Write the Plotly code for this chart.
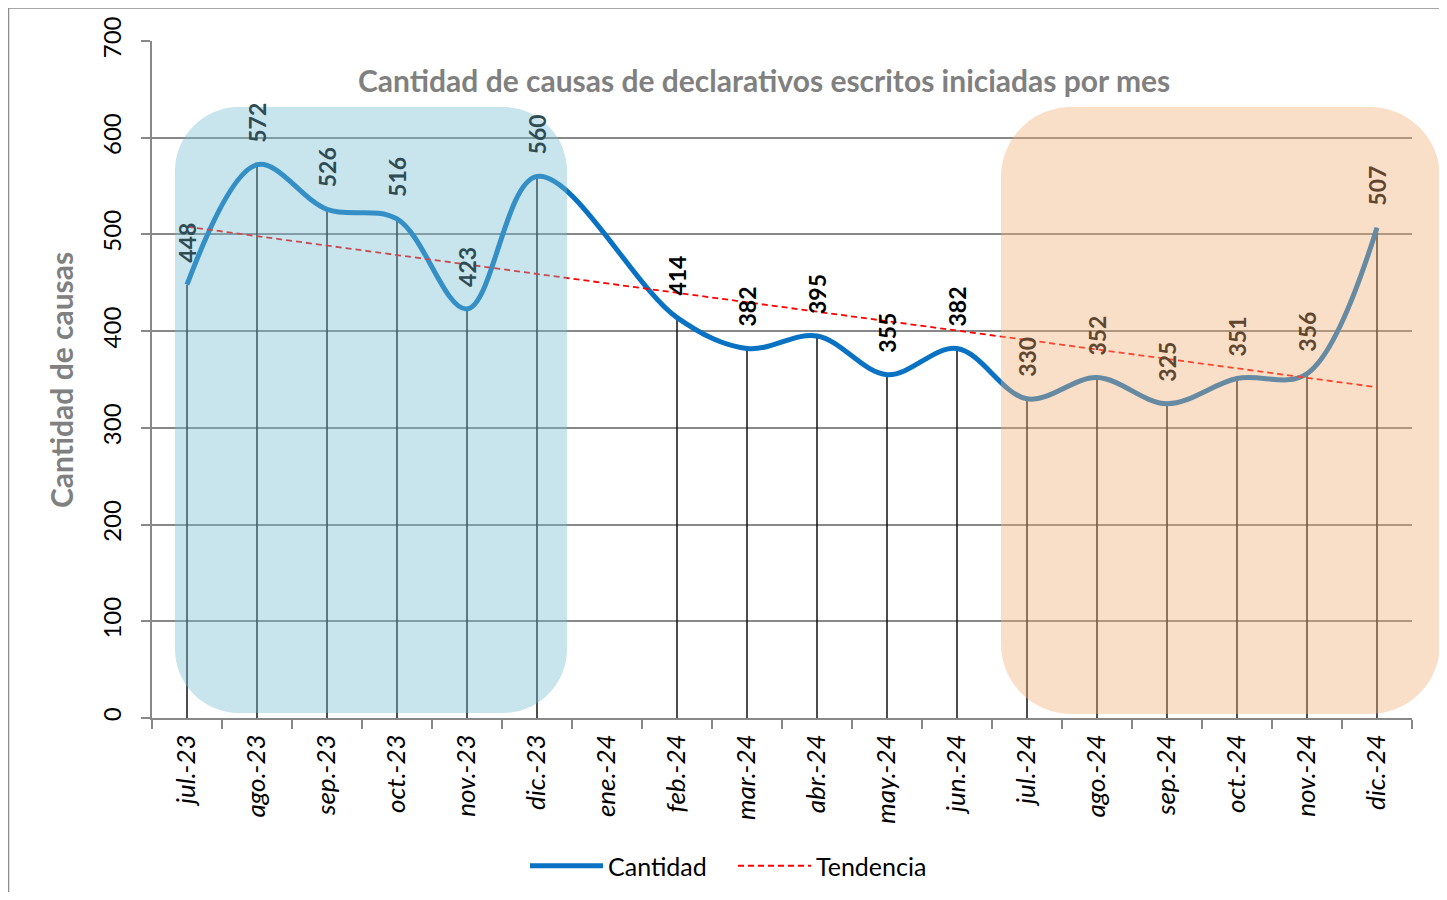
import plotly.graph_objects as go

# ---------------- data ----------------
months = ["jul.-23", "ago.-23", "sep.-23", "oct.-23", "nov.-23", "dic.-23",
          "ene.-24", "feb.-24", "mar.-24", "abr.-24", "may.-24", "jun.-24",
          "jul.-24", "ago.-24", "sep.-24", "oct.-24", "nov.-24", "dic.-24"]
cantidad = [448, 572, 526, 516, 423, 560,
            None, 414, 382, 395, 355, 382,
            330, 352, 325, 351, 356, 507]
trend_months = ["jul.-23", "dic.-24"]
tendencia = [508, 342]

title_text = "Cantidad de causas de declarativos escritos iniciadas por mes"
y_title = "Cantidad de causas"

# ---------------- layout geometry (page pixels) ----------------
OFF = 8                      # default body margin of the html page
PAGE_W, PAGE_H = 1447, 900
W, H = PAGE_W - 2 * OFF, PAGE_H - 2 * OFF
PLOT_X0, PLOT_X1, PLOT_Y0, PLOT_Y1 = 152, 1412, 41, 718
L, T = PLOT_X0 - OFF, PLOT_Y0 - OFF
R, B = PAGE_W - OFF - PLOT_X1, PAGE_H - OFF - PLOT_Y1
PW, PH = PLOT_X1 - PLOT_X0, PLOT_Y1 - PLOT_Y0
FONT = "Lato"


def px(x):
    return (x - PLOT_X0) / PW


def py(y):
    return (PLOT_Y1 - y) / PH


def rrect(x0, y0, x1, y1, r):
    k = 0.5523 * r

    def P(x, y):
        return f"{px(x):.5f},{py(y):.5f}"
    s = f"M{P(x0 + r, y0)} L{P(x1 - r, y0)} "
    s += f"C{P(x1 - r + k, y0)} {P(x1, y0 + r - k)} {P(x1, y0 + r)} "
    s += f"L{P(x1, y1 - r)} "
    s += f"C{P(x1, y1 - r + k)} {P(x1 - r + k, y1)} {P(x1 - r, y1)} "
    s += f"L{P(x0 + r, y1)} "
    s += f"C{P(x0 + r - k, y1)} {P(x0, y1 - r + k)} {P(x0, y1 - r)} "
    s += f"L{P(x0, y0 + r)} "
    s += f"C{P(x0, y0 + r - k)} {P(x0 + r - k, y0)} {P(x0 + r, y0)} Z"
    return s


# highlight regions (category index spans) and their overlay colours
BLUE_RGB, ORANGE_RGB, ALPHA = (118, 188, 208), (242, 175, 117), 0.4
blue_span, orange_span = (0, 5), (12, 17)


def blend(base, over, a=ALPHA):
    return "rgb(%d,%d,%d)" % tuple(round(b * (1 - a) + o * a) for b, o in zip(base, over))


fig = go.Figure()

# drop lines
dx, dy = [], []
for m, v in zip(months, cantidad):
    if v is None:
        continue
    dx += [m, m, None]
    dy += [0, v, None]
fig.add_trace(go.Scatter(x=dx, y=dy, mode="lines", line=dict(color="#111111", width=1.5),
                         showlegend=False, hoverinfo="skip"))

fig.add_trace(go.Scatter(x=months, y=cantidad, mode="lines", name="Cantidad",
                         line=dict(color="#0a72c2", width=5, shape="spline", smoothing=1.0),
                         connectgaps=True))

fig.add_trace(go.Scatter(x=trend_months, y=tendencia, mode="lines", name="Tendencia",
                         line=dict(color="#ff0000", width=1.8, dash="6px,4px")))

annotations = []
for i, (m, v) in enumerate(zip(months, cantidad)):
    if v is None:
        continue
    col = "rgb(0,0,0)"
    if blue_span[0] <= i <= blue_span[1]:
        col = blend((0, 0, 0), BLUE_RGB)
    elif orange_span[0] <= i <= orange_span[1]:
        col = blend((0, 0, 0), ORANGE_RGB)
    annotations.append(dict(x=m, y=v, xref="x", yref="y", text=f"<b>{v}</b>", showarrow=False,
                            textangle=-90, yanchor="bottom", xanchor="center", yshift=20,
                            font=dict(family=FONT, size=23, color=col)))

annotations.append(dict(x=px(764), y=py(80), xref="paper", yref="paper", text=f"<b>{title_text}</b>",
                        showarrow=False, xanchor="center", yanchor="middle",
                        font=dict(family=FONT, size=30, color="#808080")))
annotations.append(dict(x=px(61), y=py(380), xref="paper", yref="paper", text=f"<b>{y_title}</b>",
                        showarrow=False, xanchor="center", yanchor="middle", textangle=-90,
                        font=dict(family=FONT, size=30, color="#808080")))

shapes = [
    dict(type="rect", xref="paper", yref="paper", x0=px(8.5), x1=px(1440), y0=py(905), y1=py(8),
         line=dict(color="#8c8c8c", width=1.5), fillcolor="rgba(0,0,0,0)", layer="below"),
    dict(type="path", xref="paper", yref="paper", path=rrect(175, 107, 567, 713, 64),
         fillcolor="rgb(%d,%d,%d)" % BLUE_RGB, opacity=ALPHA, line=dict(width=0), layer="above"),
    dict(type="path", xref="paper", yref="paper", path=rrect(1001, 107, 1440, 714, 70),
         fillcolor="rgb(%d,%d,%d)" % ORANGE_RGB, opacity=ALPHA, line=dict(width=0), layer="above"),
]

fig.update_layout(
    width=W, height=H, margin=dict(l=L, r=R, t=T, b=B, pad=0, autoexpand=False),
    paper_bgcolor="white", plot_bgcolor="white",
    font=dict(family=FONT, size=22, color="black"),
    showlegend=True,
    legend=dict(orientation="h", x=px(733), y=py(866), xanchor="center", yanchor="middle",
                font=dict(family=FONT, size=25, color="black"), itemwidth=73,
                entrywidth=120, entrywidthmode="pixels",
                bgcolor="rgba(0,0,0,0)"),
    annotations=annotations, shapes=shapes,
    xaxis=dict(type="category", categoryorder="array", categoryarray=months, range=[-0.5, 17.5],
               showgrid=False, showline=True, linecolor="#888888", linewidth=2,
               ticks="outside", tickson="boundaries", ticklen=9, tickcolor="#888888", tickwidth=2,
               tickangle=-90, tickfont=dict(family=FONT, size=26, color="black", style="italic"),
               ticklabelstandoff=4, zeroline=False, automargin=False),
    yaxis=dict(range=[0, 700], dtick=100, showgrid=True, gridcolor="#888888", gridwidth=2,
               showline=True, linecolor="#888888", linewidth=2, ticks="outside", ticklen=9,
               tickcolor="#888888", tickwidth=2, tickangle=-90,
               tickfont=dict(family=FONT, size=24, color="black"), ticklabelstandoff=10,
               zeroline=False, automargin=False),
)

fig.write_html("out.html")
